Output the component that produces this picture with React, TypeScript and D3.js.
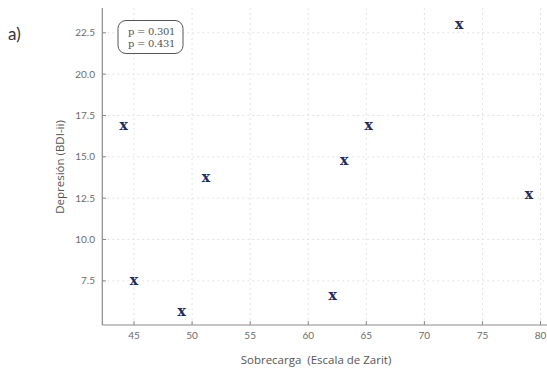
import React from "react";
import * as d3 from "d3";

const sobrecarga = [44.1, 45.0, 49.1, 51.2, 62.1, 63.1, 65.2, 73.0, 79.0];
const depresion = [16.9, 7.55, 5.65, 13.75, 6.6, 14.8, 16.9, 23.0, 12.75];
const xTicks = [45, 50, 55, 60, 65, 70, 75, 80];
const yTicks = [7.5, 10.0, 12.5, 15.0, 17.5, 20.0, 22.5];
const pLines = ["p = 0.301", "p = 0.431"];

const W = 547;
const H = 368;

export default function App() {
  const x = d3.scaleLinear().domain([42.27, 80.6]).range([102.3, 547.5]);
  const y = d3.scaleLinear().domain([4.83, 24.0]).range([325, 8]);
  const axisColor = "#8a8a8a";
  const tickText = "#6b6b6b";
  const sans = "Lato, 'Open Sans', sans-serif";
  return (
    <svg width={W} height={H} style={{ position: "absolute", left: 0, top: 0, background: "#fff" }}>
      {/* grid */}
      {xTicks.map((t) => (
        <line key={"gx" + t} x1={x(t)} x2={x(t)} y1={8} y2={325} stroke="#e3e3e3" strokeDasharray="2,3" />
      ))}
      {yTicks.map((t) => (
        <line key={"gy" + t} x1={102.3} x2={W} y1={y(t)} y2={y(t)} stroke="#e3e3e3" strokeDasharray="2,3" />
      ))}
      {/* axes */}
      <line x1={102.3} x2={102.3} y1={8} y2={325} stroke={axisColor} strokeWidth={1.2} />
      <line x1={102.3} x2={W} y1={325} y2={325} stroke={axisColor} strokeWidth={1.2} />
      {xTicks.map((t) => (
        <g key={"xt" + t}>
          <line x1={x(t)} x2={x(t)} y1={325} y2={321} stroke={axisColor} />
          <text x={x(t)} y={339} textAnchor="middle" fontSize={10} fill={tickText} fontFamily={sans}>
            {t}
          </text>
        </g>
      ))}
      {yTicks.map((t) => (
        <g key={"yt" + t}>
          <line x1={102.3} x2={106} y1={y(t)} y2={y(t)} stroke={axisColor} />
          <text x={95} y={y(t) + 3.5} textAnchor="end" fontSize={10} fill={tickText} fontFamily={sans}>
            {t.toFixed(1)}
          </text>
        </g>
      ))}
      {/* axis titles */}
      <text x={316} y={364} textAnchor="middle" fontSize={11.5} fill="#555" fontFamily="'Open Sans', sans-serif">
        {"Sobrecarga\u00a0 (Escala de Zarit)"}
      </text>
      <text
        transform={`translate(64,${167}) rotate(-90)`}
        textAnchor="middle"
        fontSize={11.5}
        fill="#555"
        fontFamily="'Open Sans', sans-serif"
      >
        Depresión (BDI-ii)
      </text>
      {/* panel label */}
      <text x={8} y={40} fontSize={17} fill="#333" fontFamily={sans}>
        a)
      </text>
      {/* p-value box */}
      <rect x={118} y={20.5} width={65} height={33} rx={8} ry={8} fill="#fff" stroke="#555" strokeWidth={1} />
      {pLines.map((s, i) => (
        <text key={s + i} x={128} y={35 + i * 11.5} fontSize={10} fill="#555" fontFamily="'DejaVu Serif', serif" letterSpacing={-0.3}>
          {s}
        </text>
      ))}
      {/* points */}
      {sobrecarga.map((v, i) => (
        <text
          key={"p" + i}
          x={x(v)}
          y={y(depresion[i]) + 4.5}
          textAnchor="middle"
          fontSize={14}
          fontWeight="bold"
          fill="#232a5c"
          fontFamily="'DejaVu Serif', serif"
        >
          x
        </text>
      ))}
    </svg>
  );
}
